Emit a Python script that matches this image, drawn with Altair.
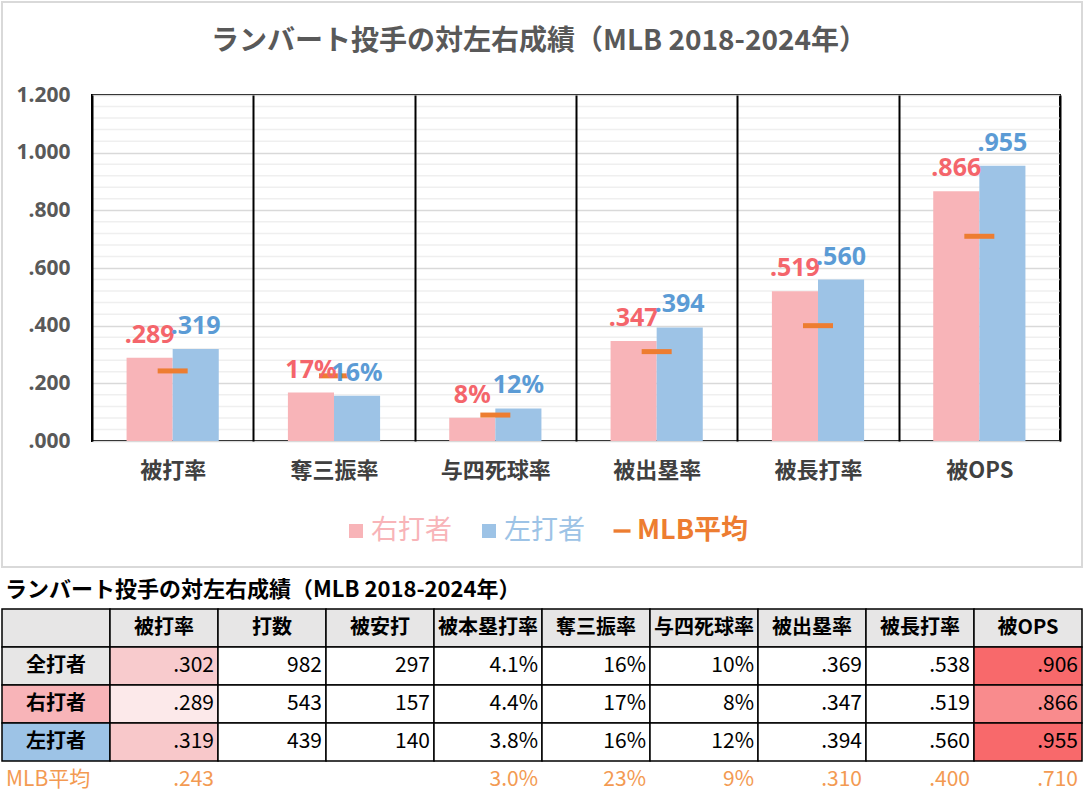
import altair as alt
import pandas as pd

# ---------------- chart data ----------------
chart_title = "ランバート投手の対左右成績（MLB 2018-2024年）"
categories = ["被打率", "奪三振率", "与四死球率", "被出塁率", "被長打率", "被OPS"]
series = ["右打者", "左打者"]
right_vals = [0.289, 0.168, 0.081, 0.347, 0.519, 0.866]
left_vals = [0.319, 0.157, 0.113, 0.394, 0.560, 0.955]
mlb_vals = [0.243, 0.226, 0.090, 0.310, 0.400, 0.710]
right_labels = [".289", "17%", "8%", ".347", ".519", ".866"]
left_labels = [".319", "16%", "12%", ".394", ".560", ".955"]
legend_names = ["右打者", "左打者", "MLB平均"]
y_major = [0.0, 0.2, 0.4, 0.6, 0.8, 1.0, 1.2]
y_minor = [0.04, 0.08, 0.12, 0.16, 0.24, 0.28, 0.32, 0.36, 0.44, 0.48, 0.52, 0.56,
           0.64, 0.68, 0.72, 0.76, 0.84, 0.88, 0.92, 0.96, 1.04, 1.08, 1.12, 1.16]

# ---------------- table data ----------------
table_title = "ランバート投手の対左右成績（MLB 2018-2024年）"
table_headers = ["被打率", "打数", "被安打", "被本塁打率", "奪三振率", "与四死球率", "被出塁率", "被長打率", "被OPS"]
row_names = ["全打者", "右打者", "左打者"]
all_row = [".302", "982", "297", "4.1%", "16%", "10%", ".369", ".538", ".906"]
right_row = [".289", "543", "157", "4.4%", "17%", "8%", ".347", ".519", ".866"]
left_row = [".319", "439", "140", "3.8%", "16%", "12%", ".394", ".560", ".955"]
mlb_label = "MLB平均"
mlb_row = [".243", "", "", "3.0%", "23%", "9%", ".310", ".400", ".710"]

# ---------------- styles ----------------
PINK = "#F8B4B8"
BLUE = "#9DC3E6"
ORANGE = "#ED7D31"
RED_TXT = "#F4656B"
BLUE_TXT = "#5B9BD5"
MLB_TXT = "#F39A52"
JP = "Noto Sans CJK JP"
LATIN = "Noto Sans"
HEADER_FILL = "#E7E6E6"
row_label_fill = {"全打者": HEADER_FILL, "右打者": PINK, "左打者": BLUE}
cell_fill = {
    ("全打者", "被打率"): "#F8CBCD", ("右打者", "被打率"): "#FCE9EA", ("左打者", "被打率"): "#F8C8CA",
    ("全打者", "被OPS"): "#F8696B", ("右打者", "被OPS"): "#F98B8D", ("左打者", "被OPS"): "#F8696B",
}

# ---------------- main bar chart ----------------
bar_df = pd.DataFrame({
    "cat": categories * 2,
    "series": [s for s in series for _ in categories],
    "value": right_vals + left_vals,
    "label": right_labels + left_labels,
})
mlb_df = pd.DataFrame({"cat": categories, "mlb": mlb_vals})
minor_df = pd.DataFrame({"v": y_minor})

x_axis = alt.Axis(title=None, tickBand="extent", grid=True, gridColor="black", gridWidth=2,
                  domain=False, ticks=False, tickSize=0, labelFontSize=22, labelFontWeight="bold",
                  labelColor="#404040", labelFont=JP, labelPadding=19, labelAngle=0, zindex=1)
y_axis = alt.Axis(title=None, values=y_major, grid=True, gridColor="#D9D9D9", gridWidth=1.5,
                  domain=False, ticks=False, tickSize=0, labelFontSize=21, labelFontWeight="bold",
                  labelColor="#595959", labelFont=LATIN, labelPadding=22,
                  labelExpr="datum.value >= 1 ? format(datum.value, '.3f') : replace(format(datum.value, '.3f'), '0.', '.')")
x_scale = alt.Scale(domain=categories, paddingInner=0, paddingOuter=0)
y_scale = alt.Scale(domain=[0, 1.2], nice=False, zero=True)
xo_scale = alt.Scale(domain=series, paddingInner=0, paddingOuter=0.75)

minor = alt.Chart(minor_df).mark_rule(color="#EFEFEF", strokeWidth=1.5).encode(
    y=alt.Y("v:Q", scale=y_scale, axis=y_axis)
)
bars = alt.Chart(bar_df).mark_bar().encode(
    x=alt.X("cat:N", sort=categories, scale=x_scale, axis=x_axis),
    xOffset=alt.XOffset("series:N", sort=series, scale=xo_scale),
    y=alt.Y("value:Q", scale=y_scale, axis=y_axis),
    color=alt.Color("series:N", scale=alt.Scale(domain=series, range=[PINK, BLUE]), legend=None),
)
ticks = alt.Chart(mlb_df).mark_tick(color=ORANGE, thickness=5, size=30, opacity=1).encode(
    x=alt.X("cat:N", sort=categories, scale=x_scale, axis=x_axis),
    y=alt.Y("mlb:Q", scale=y_scale, axis=y_axis),
)
labels = alt.Chart(bar_df).mark_text(font=LATIN, fontSize=25, fontWeight="bold",
                                     baseline="alphabetic", dy=-15).encode(
    x=alt.X("cat:N", sort=categories, scale=x_scale, axis=x_axis),
    xOffset=alt.XOffset("series:N", sort=series, scale=xo_scale),
    y=alt.Y("value:Q", scale=y_scale, axis=y_axis),
    text="label:N",
    color=alt.Color("series:N", scale=alt.Scale(domain=series, range=[RED_TXT, BLUE_TXT]), legend=None),
)
main = alt.layer(minor, bars, ticks, labels).resolve_scale(color="independent")

# ---------------- frame and title ----------------
one = pd.DataFrame({"a": [0]})
frame = alt.Chart(one).mark_rect(fillOpacity=0, stroke="#D9D9D9", strokeWidth=2).encode(
    x=alt.value(-90), x2=alt.value(990), y=alt.value(-93), y2=alt.value(472)
)
title = alt.Chart(one).mark_text(text=chart_title, font=JP, fontSize=28, fontWeight="bold",
                                 color="#595959", align="center", baseline="middle").encode(
    x=alt.value(447), y=alt.value(-53)
)

# ---------------- legend ----------------
leg_df = pd.DataFrame({"name": legend_names})
leg_x = alt.X("name:N", scale=alt.Scale(type="point", domain=legend_names, range=[264, 530], padding=0), axis=None)
leg_color = alt.Color("name:N", scale=alt.Scale(domain=legend_names, range=[PINK, BLUE, ORANGE]), legend=None)
leg_sq = alt.Chart(leg_df).transform_filter(alt.FieldOneOfPredicate(field="name", oneOf=series)).mark_point(
    shape="square", filled=True, size=196, opacity=1).encode(x=leg_x, y=alt.value(436), color=leg_color)
leg_dash = alt.Chart(leg_df).transform_filter(alt.FieldEqualPredicate(field="name", equal=legend_names[2])).mark_point(
    shape="M-1,-0.2L1,-0.2L1,0.2L-1,0.2Z", filled=True, size=289, opacity=1).encode(
    x=leg_x, y=alt.value(436), color=leg_color)
leg_txt = alt.Chart(leg_df).transform_filter(alt.FieldOneOfPredicate(field="name", oneOf=series)).mark_text(
    font=JP, fontSize=27, align="left", baseline="middle", dx=15).encode(
    x=leg_x, y=alt.value(436), text="name:N", color=leg_color)
leg_txt2 = alt.Chart(leg_df).transform_filter(alt.FieldEqualPredicate(field="name", equal=legend_names[2])).mark_text(
    font=JP, fontSize=27, fontWeight="bold", align="left", baseline="middle", dx=15).encode(
    x=leg_x, y=alt.value(436), text="name:N", color=leg_color)
legend = alt.layer(leg_sq, leg_dash, leg_txt, leg_txt2)

# ---------------- table ----------------
col_keys = ["_"] + table_headers
row_keys = ["title", "header"] + row_names + [mlb_label]

rect_rows = []
for c in col_keys:
    rect_rows.append({"row": "header", "col": c, "fill": HEADER_FILL})
for r in row_names:
    rect_rows.append({"row": r, "col": "_", "fill": row_label_fill[r]})
    for c in table_headers:
        rect_rows.append({"row": r, "col": c, "fill": cell_fill.get((r, c), "#FFFFFF")})
rect_df = pd.DataFrame(rect_rows)

center_rows = [{"row": "header", "col": c, "text": c} for c in table_headers]
center_rows += [{"row": r, "col": "_", "text": r} for r in row_names]
center_df = pd.DataFrame(center_rows)

val_rows = []
for r, vals in zip(row_names, [all_row, right_row, left_row]):
    for c, v in zip(table_headers, vals):
        val_rows.append({"row": r, "col": c, "text": v})
val_df = pd.DataFrame(val_rows)
mlb_val_df = pd.DataFrame([{"row": mlb_label, "col": c, "text": v}
                           for c, v in zip(table_headers, mlb_row) if v])
mlb_lab_df = pd.DataFrame([{"row": mlb_label, "col": "_", "text": mlb_label}])
ttl_df = pd.DataFrame([{"row": "title", "col": "_", "text": table_title}])

tx_scale = alt.Scale(domain=col_keys, range=[-90, 990], paddingInner=0, paddingOuter=0)
ty_scale = alt.Scale(domain=row_keys, range=[476, 704], paddingInner=0, paddingOuter=0)
tx = alt.X("col:N", scale=tx_scale, axis=None)
tx_right = alt.X("col:N", scale=tx_scale, axis=None, bandPosition=1)
tx_left = alt.X("col:N", scale=tx_scale, axis=None, bandPosition=0)
ty = alt.Y("row:N", scale=ty_scale, axis=None)

t_rect = alt.Chart(rect_df).mark_rect(stroke="black", strokeWidth=1.5).encode(
    x=tx, y=ty, fill=alt.Fill("fill:N", scale=None))
t_center = alt.Chart(center_df).mark_text(font=JP, fontSize=20, fontWeight="bold", color="black",
                                          baseline="middle", align="center").encode(x=tx, y=ty, text="text:N")
t_vals = alt.Chart(val_df).mark_text(font=JP, fontSize=21, color="black", baseline="middle",
                                     align="right", dx=-4).encode(x=tx_right, y=ty, text="text:N")
t_mlb_vals = alt.Chart(mlb_val_df).mark_text(font=JP, fontSize=21, color=MLB_TXT, baseline="middle",
                                             align="right", dx=-4).encode(x=tx_right, y=ty, text="text:N")
t_mlb_lab = alt.Chart(mlb_lab_df).mark_text(font=JP, fontSize=21, color=MLB_TXT, baseline="middle",
                                            align="left", dx=4).encode(x=tx_left, y=ty, text="text:N")
t_title = alt.Chart(ttl_df).mark_text(font=JP, fontSize=22, fontWeight="bold", color="black",
                                      baseline="middle", align="left", dx=3).encode(x=tx_left, y=ty, text="text:N")
table = alt.layer(t_rect, t_center, t_vals, t_mlb_vals, t_mlb_lab, t_title)

# ---------------- compose ----------------
chart = alt.layer(frame, title, main, legend, table).resolve_scale(
    x="independent", y="independent", color="independent"
).properties(
    width=968, height=346,
    padding={"left": 92, "top": 95, "right": 25, "bottom": 353},
    autosize=alt.AutoSizeParams(type="none"),
    background="white",
).configure_view(stroke="black", strokeWidth=2)

chart.save("out.html", embed_options={"renderer": "svg", "actions": False})
